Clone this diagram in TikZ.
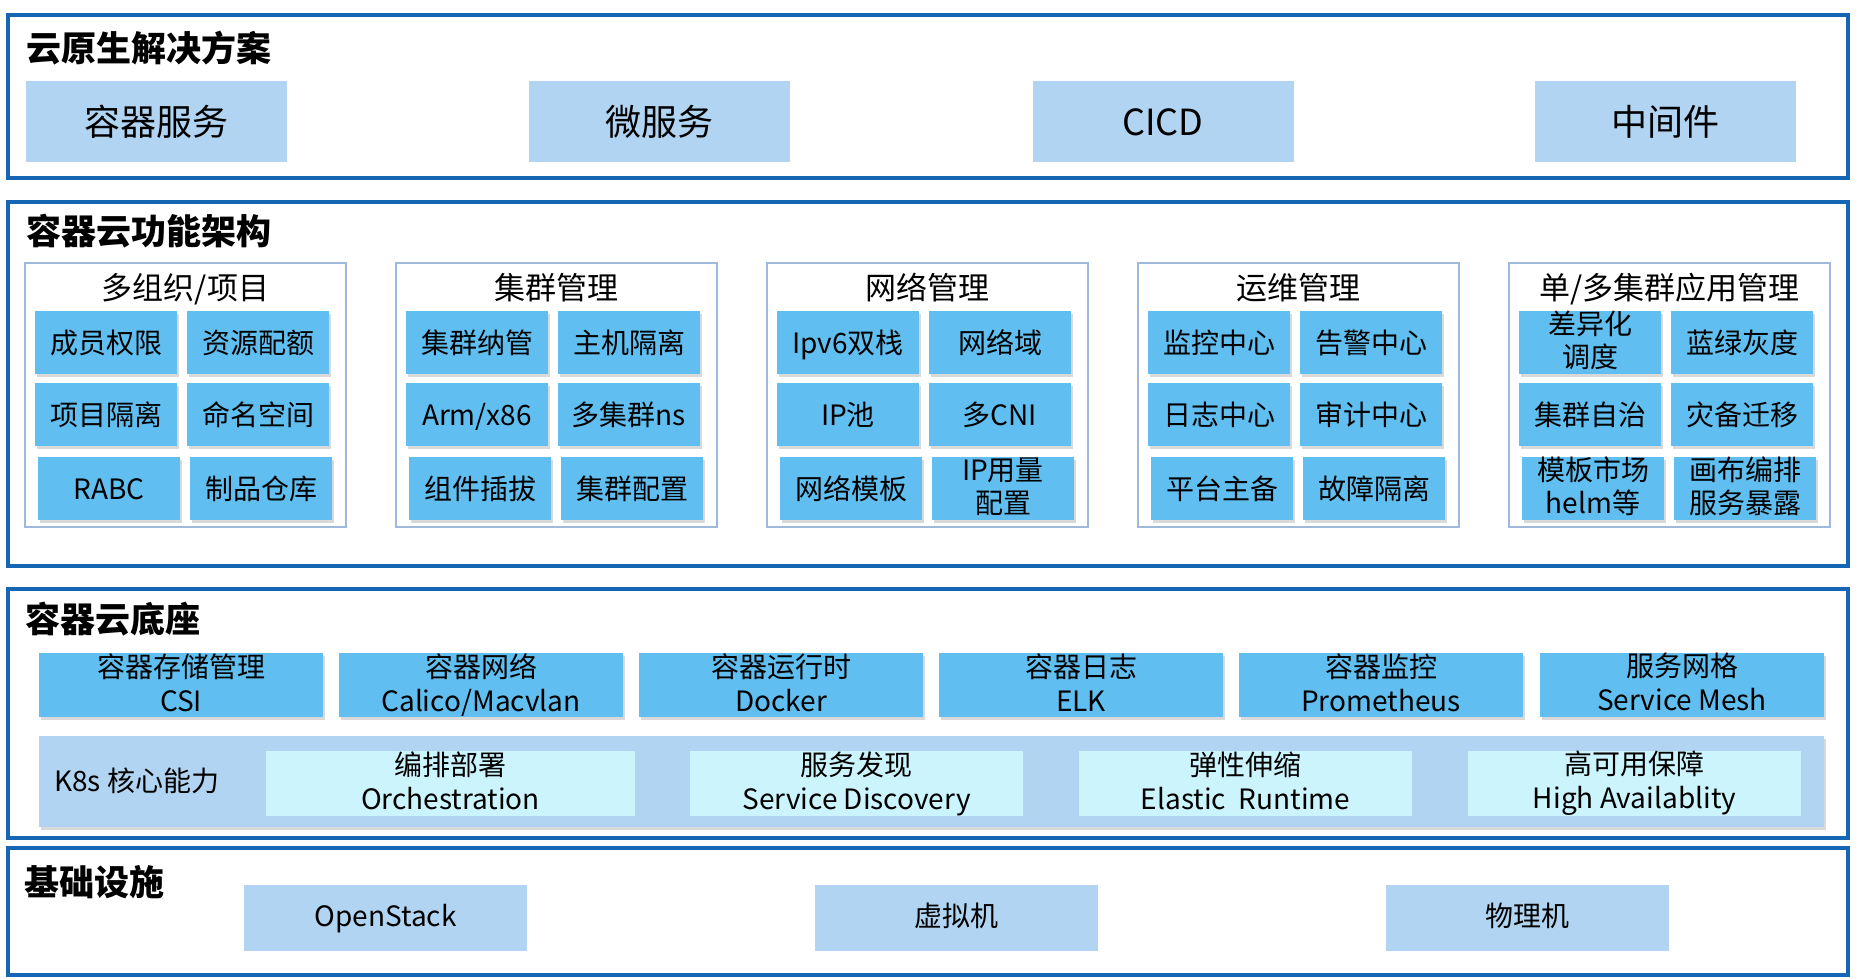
\documentclass[tikz,border=0pt]{standalone}
\usepackage{fontspec}
\setmainfont{Noto Sans CJK SC}
\usepackage{tikz}
\usetikzlibrary{shadows}
\definecolor{frameblue}{HTML}{1567B5}
\definecolor{grpline}{HTML}{9DB9DC}
\definecolor{lightblue}{HTML}{B0D4F1}
\definecolor{cellblue}{HTML}{60BFF0}
\definecolor{paleblue}{HTML}{CCF4FD}
\newcommand{\boxstrut}{\rule[-0.25em]{0pt}{1.3em}}

\begin{document}
\begin{tikzpicture}[x=1pt,y=-1pt,
    every node/.append style={execute at begin node={\boxstrut},
        execute at end node={\rule[-0.2em]{0pt}{0.2em}}},
    twoline/.code={\def\boxstrut{}},
    raised/.code={\def\boxstrut{\rule[-0.35em]{0pt}{1.3em}}},
    panel/.style={draw=frameblue,line width=4.5pt},
    grp/.style={draw=grpline,line width=1.5pt},
    ttl/.style={anchor=west,inner sep=0pt,font=\fontsize{35}{40}\selectfont\bfseries},
    gttl/.style={inner sep=0pt,font=\fontsize{31}{36}\selectfont},
    solbox/.style={fill=lightblue,inner sep=0pt,minimum width=261pt,minimum height=81pt,font=\fontsize{36}{40}\selectfont},
    cell/.style={fill=cellblue,inner sep=0pt,minimum width=142pt,minimum height=63pt,align=center,
        font=\fontsize{28}{33}\selectfont,drop shadow={shadow xshift=1.5pt,shadow yshift=-3pt,opacity=0.3}},
    basebox/.style={cell,twoline,minimum width=284pt,minimum height=64pt,font=\fontsize{28}{34}\selectfont},
    corebox/.style={fill=paleblue,twoline,inner sep=0pt,minimum width=333pt,minimum height=65pt,align=center,
        font=\fontsize{28}{34}\selectfont},
    infbox/.style={fill=lightblue,raised,inner sep=0pt,minimum width=283pt,minimum height=66pt,font=\fontsize{28}{34}\selectfont}]
    \useasboundingbox (0,0) rectangle (1857,978);

    % Cloud native solutions
    \draw[panel] (8,15) rectangle (1848,178);
    \node[ttl] (solttl) at (26,47) {云原生解决方案};
    \node[solbox] (container) at (156.5,121) {容器服务};
    \node[solbox] (micro) at (659.5,121) {微服务};
    \node[solbox] (cicd) at (1163,121) {CICD};
    \node[solbox] (middle) at (1665.5,121) {中间件};

    % Container cloud functions
    \draw[panel] (8,202) rectangle (1848,566);
    \node[ttl] (functtl) at (26,230) {容器云功能架构};

    \draw[grp] (25,263) rectangle (346,527); % org / project
    \node[gttl] (orgttl) at (185.5,287) {多组织/项目};
    \node[cell] (member) at (106,342.5) {成员权限};
    \node[cell] (quota) at (258,342.5) {资源配额};
    \node[cell] (projiso) at (106,414) {项目隔离};
    \node[cell] (namespace) at (258,414) {命名空间};
    \node[cell] (rabc) at (109,488) {RABC};
    \node[cell] (artifact) at (261,488) {制品仓库};

    \draw[grp] (396,263) rectangle (717,527); % cluster
    \node[gttl] (clusterttl) at (556.5,287) {集群管理};
    \node[cell] (clusterin) at (477,342.5) {集群纳管};
    \node[cell] (hostiso) at (629,342.5) {主机隔离};
    \node[cell] (arm) at (477,414) {Arm/x86};
    \node[cell] (multins) at (629,414) {多集群ns};
    \node[cell] (plugin) at (480,488) {组件插拔};
    \node[cell] (clustercfg) at (632,488) {集群配置};

    \draw[grp] (767,263) rectangle (1088,527); % network
    \node[gttl] (netttl) at (927.5,287) {网络管理};
    \node[cell] (ipvsix) at (848,342.5) {Ipv6双栈};
    \node[cell] (netdomain) at (1000,342.5) {网络域};
    \node[cell] (ippool) at (848,414) {IP池};
    \node[cell] (multicni) at (1000,414) {多CNI};
    \node[cell] (nettpl) at (851,488) {网络模板};
    \node[cell,twoline] (ipusage) at (1003,488) {IP用量\\配置};

    \draw[grp] (1138,263) rectangle (1459,527); % operations
    \node[gttl] (opsttl) at (1298.5,287) {运维管理};
    \node[cell] (monitor) at (1219,342.5) {监控中心};
    \node[cell] (alert) at (1371,342.5) {告警中心};
    \node[cell] (logc) at (1219,414) {日志中心};
    \node[cell] (audit) at (1371,414) {审计中心};
    \node[cell] (standby) at (1222,488) {平台主备};
    \node[cell] (faultiso) at (1374,488) {故障隔离};

    \draw[grp] (1509,263) rectangle (1830,527); % applications
    \node[gttl] (appttl) at (1669.5,287) {单/多集群应用管理};
    \node[cell,twoline] (diffsched) at (1590,342.5) {差异化\\调度};
    \node[cell] (bluegreen) at (1742,342.5) {蓝绿灰度};
    \node[cell] (autonomy) at (1590,414) {集群自治};
    \node[cell] (migrate) at (1742,414) {灾备迁移};
    \node[cell,twoline] (market) at (1593,488) {模板市场\\helm等};
    \node[cell,twoline] (canvas) at (1745,488) {画布编排\\服务暴露};

    % Container cloud base
    \draw[panel] (8,589) rectangle (1848,838);
    \node[ttl] (basettl) at (25,618) {容器云底座};
    \node[basebox,align=center] (csi) at (181,685) {容器存储管理\\CSI};
    \node[basebox,align=center] (cni) at (481,685) {容器网络\\Calico/Macvlan};
    \node[basebox,align=center] (runtime) at (781,685) {容器运行时\\Docker};
    \node[basebox,align=center] (elk) at (1081,685) {容器日志\\ELK};
    \node[basebox,align=center] (prom) at (1381,685) {容器监控\\Prometheus};
    \node[basebox,align=center] (mesh) at (1682,685) {服务网格\\Service Mesh};

    \node[fill=lightblue,inner sep=0pt,minimum width=1785pt,minimum height=91pt,
        drop shadow={shadow xshift=1.5pt,shadow yshift=-3pt,opacity=0.3}] (kband) at (931.5,781.5) {};
    \node[anchor=west,inner sep=0pt,font=\fontsize{28}{34}\selectfont] (kttl) at (54,780) {K8s 核心能力};
    \node[corebox,minimum width=369pt] (orch) at (450.5,783.5) {编排部署\\Orchestration};
    \node[corebox] (discovery) at (856.5,783.5) {服务发现\\Service Discovery};
    \node[corebox] (elastic) at (1245.5,783.5) {弹性伸缩\\Elastic\ \ Runtime};
    \node[corebox] (ha) at (1634.5,783.5) {高可用保障\\High Availablity};

    % Infrastructure
    \draw[panel] (8,848) rectangle (1848,975);
    \node[ttl] (infttl) at (24,881) {基础设施};
    \node[infbox] (openstack) at (385.5,918) {OpenStack};
    \node[infbox] (vm) at (956.5,918) {虚拟机};
    \node[infbox] (bare) at (1527.5,918) {物理机};
\end{tikzpicture}
\end{document}
